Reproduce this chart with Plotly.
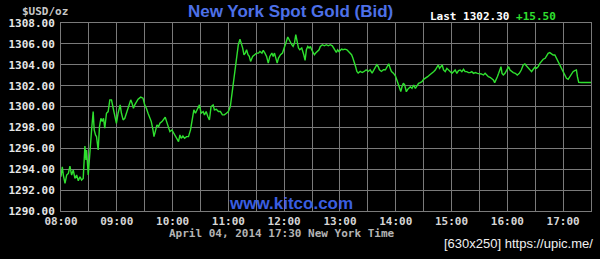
import datetime as dt
import plotly.graph_objects as go

# minutes after 08:00 (April 04, 2014, New York time)
minutes = [
    0, 1.4, 2.5, 4.3, 6.1, 7.9, 9.6, 11.4, 13.2, 15.0, 16.8, 18.6, 20.4, 22.1, 23.9,
    25.7, 26.8, 27.5, 29.3, 31.1, 32.9, 34.6, 35.7, 37.1, 38.2, 40.0, 41.4, 42.9, 44.3,
    45.7, 47.1, 48.9, 50.7, 52.5, 54.3, 56.1, 57.9, 59.6, 61.4, 63.6, 65.0, 66.8, 68.6,
    70.4, 72.1, 73.9, 75.0, 76.4, 77.9, 79.3, 81.1, 82.9, 85.7, 88.2, 90.0, 91.8, 93.6,
    95.4, 97.1, 98.9, 100.0, 101.4, 103.2, 105.0, 106.4, 108.6, 110.7, 112.1, 113.6,
    115.0, 117.1, 119.3, 121.4, 123.9, 126.4, 127.9, 129.3, 131.1, 132.9, 135.0, 137.1,
    139.3, 141.1, 142.9, 144.6, 146.4, 148.9, 150.7, 152.9, 154.3, 156.1, 157.9, 159.6,
    161.4, 163.6, 165.0, 167.1, 169.3, 171.4, 173.6, 175.7, 177.9, 180.0, 182.1, 183.9,
    185.4, 187.1, 188.9, 190.7, 192.5, 193.9, 195.4, 196.8, 198.2, 199.6, 201.1, 202.5,
    203.9, 206.1, 208.2, 210.4, 212.5, 213.9, 216.1, 217.5, 219.3, 221.1, 222.9, 224.6,
    226.8, 228.2, 229.6, 231.1, 232.5, 233.9, 236.1, 238.2, 239.6, 241.8, 243.9, 245.4,
    246.8, 248.2, 249.6, 251.1, 252.5, 253.9, 255.4, 256.8, 258.9, 261.1, 262.5, 263.9,
    265.4, 266.8, 268.2, 269.6, 271.1, 272.5, 273.9, 275.4, 277.5, 278.9, 281.1, 283.2,
    285.4, 287.5, 289.6, 291.8, 293.2, 294.6, 296.1, 297.5, 298.9, 300.4, 301.8, 303.2,
    305.4, 307.5, 308.9, 311.1, 312.5, 313.9, 315.4, 316.8, 318.2, 319.6, 321.8, 323.9,
    326.1, 328.2, 330.4, 332.5, 334.6, 336.8, 338.2, 339.6, 341.1, 342.5, 344.6, 346.8,
    348.9, 351.1, 352.5, 353.9, 355.4, 357.5, 359.6, 361.1, 362.5, 363.9, 365.4, 366.8,
    368.2, 369.6, 371.4, 372.9, 374.3, 375.7, 377.5, 379.3, 381.1, 382.9, 384.6, 386.4,
    388.2, 390.0, 392.1, 394.3, 396.4, 398.9, 400.7, 402.5, 404.3, 405.7, 407.1, 408.6,
    410.0, 411.4, 413.2, 415.0, 416.8, 418.6, 420.4, 422.1, 423.9, 425.7, 427.5, 429.3,
    431.1, 432.9, 434.6, 436.4, 438.2, 440.0, 441.8, 443.6, 445.7, 447.9, 450.0, 452.1,
    454.3, 456.1, 457.9, 459.6, 461.4, 463.2, 465.0, 466.4, 467.9, 469.3, 470.7, 472.1,
    473.2, 474.3, 475.7, 477.5, 479.3, 481.4, 482.9, 484.6, 486.4, 488.6, 490.7, 492.9,
    495.0, 497.1, 498.9, 500.7, 502.9, 504.3, 506.1, 507.9, 509.6, 511.4, 513.2, 515.0,
    516.8, 518.6, 520.7, 522.1, 523.9, 525.7, 527.5, 529.3, 531.1, 532.9, 534.6, 536.4,
    538.2, 540.0, 541.8, 543.6, 545.4, 547.1, 548.9, 550.7, 552.5, 554.3, 555.4, 556.8,
    559.6, 570.0,
]

bid = [
    1293.28, 1294.24, 1293.44, 1292.64, 1293.44, 1293.60, 1294.30, 1293.44, 1293.92,
    1293.12, 1293.44, 1292.90, 1293.28, 1292.96, 1293.12, 1296.22, 1294.88, 1295.84,
    1293.44, 1296.16, 1297.76, 1299.52, 1297.76, 1297.28, 1297.12, 1295.84, 1298.08,
    1298.88, 1298.56, 1298.88, 1297.92, 1299.36, 1299.52, 1300.64, 1300.64, 1299.84,
    1299.20, 1298.40, 1299.36, 1300.16, 1299.36, 1298.72, 1298.88, 1299.36, 1299.84,
    1300.48, 1300.64, 1300.32, 1299.84, 1300.16, 1300.48, 1300.70, 1300.90, 1300.80,
    1300.16, 1299.84, 1299.36, 1298.88, 1298.56, 1297.76, 1297.12, 1297.60, 1298.24,
    1298.08, 1298.40, 1298.56, 1298.88, 1298.98, 1298.56, 1298.24, 1297.60, 1297.76,
    1297.44, 1297.12, 1296.64, 1297.28, 1296.96, 1297.18, 1296.96, 1297.12, 1297.12,
    1297.76, 1298.56, 1299.68, 1299.36, 1299.68, 1300.16, 1299.36, 1299.52, 1299.20,
    1299.52, 1299.04, 1298.72, 1300.00, 1300.16, 1299.68, 1299.74, 1299.52, 1299.52,
    1299.20, 1299.20, 1299.36, 1299.52, 1300.00, 1301.28, 1302.24, 1303.84, 1305.12,
    1305.92, 1306.46, 1306.08, 1305.60, 1304.96, 1305.12, 1305.44, 1304.96, 1304.80,
    1304.32, 1304.80, 1304.96, 1305.12, 1305.12, 1305.28, 1305.12, 1305.38, 1305.12,
    1304.80, 1304.16, 1304.80, 1305.12, 1304.80, 1305.12, 1304.64, 1304.16, 1304.64,
    1304.96, 1305.12, 1305.60, 1306.08, 1306.66, 1306.40, 1306.08, 1305.92, 1305.76,
    1306.08, 1306.88, 1306.08, 1305.60, 1305.44, 1305.60, 1304.96, 1304.42, 1305.44,
    1305.76, 1305.60, 1305.76, 1305.44, 1305.12, 1304.96, 1305.12, 1305.28, 1305.44,
    1305.76, 1305.92, 1305.82, 1305.92, 1305.82, 1305.92, 1305.82, 1305.60, 1305.28,
    1305.18, 1305.44, 1305.28, 1305.38, 1305.50, 1305.44, 1305.50, 1305.44, 1305.28,
    1305.12, 1304.96, 1304.64, 1304.32, 1303.84, 1303.36, 1303.20, 1303.36, 1303.26,
    1303.36, 1303.52, 1303.36, 1303.52, 1303.20, 1303.52, 1303.68, 1304.00, 1303.84,
    1303.52, 1303.36, 1303.52, 1303.52, 1303.90, 1304.10, 1303.68, 1303.36, 1303.20,
    1302.94, 1302.56, 1302.24, 1301.92, 1301.44, 1301.92, 1302.24, 1302.08, 1301.42,
    1301.65, 1301.74, 1301.90, 1301.74, 1302.06, 1301.74, 1302.06, 1302.22, 1302.29,
    1302.38, 1302.61, 1302.70, 1302.86, 1303.02, 1303.18, 1303.34, 1303.50, 1303.82,
    1303.98, 1303.66, 1303.89, 1303.98, 1303.50, 1303.34, 1303.66, 1303.50, 1303.34,
    1303.18, 1303.34, 1303.50, 1303.18, 1303.44, 1303.50, 1303.34, 1303.57, 1303.34,
    1303.34, 1303.25, 1303.25, 1303.34, 1303.18, 1303.25, 1303.18, 1303.18, 1303.12,
    1303.02, 1303.18, 1303.02, 1302.86, 1302.80, 1302.70, 1302.54, 1302.29, 1302.54,
    1302.86, 1303.18, 1303.66, 1303.82, 1303.18, 1303.02, 1303.18, 1303.50, 1303.82,
    1303.50, 1303.34, 1303.25, 1303.18, 1303.02, 1303.18, 1303.50, 1303.98, 1304.08,
    1303.89, 1303.66, 1303.50, 1303.34, 1303.57, 1303.76, 1303.66, 1303.82, 1304.14,
    1304.40, 1304.53, 1304.62, 1304.78, 1305.10, 1305.17, 1305.04, 1304.94, 1304.94,
    1304.62, 1304.30, 1303.98, 1303.66, 1303.34, 1303.02, 1302.70, 1302.61, 1302.86,
    1303.18, 1303.34, 1303.44, 1303.50, 1302.86, 1302.32, 1302.30, 1302.30,
]

y_ticks = [1290, 1292, 1294, 1296, 1298, 1300, 1302, 1304, 1306, 1308]
x_tick_labels = ["08:00", "09:00", "10:00", "11:00", "12:00", "13:00",
                 "14:00", "15:00", "16:00", "17:00"]
title_text = "New York Spot Gold (Bid)"
last_price = "1302.30"
change = "+15.50"
unit_label = "$USD/oz"
timestamp_label = "April 04, 2014 17:30 New York Time"
site_label = "www.kitco.com"
watermark = "[630x250] https://upic.me/"

base = dt.datetime(2014, 4, 4, 8, 0)
times = [base + dt.timedelta(minutes=m) for m in minutes]
tick_vals = [dt.datetime(2014, 4, 4, int(s[:2]), 0) for s in x_tick_labels]

MONO = "DejaVu Sans Mono"
GRID = "#7a7a7a"
GREEN = "#2fe02f"

fig = go.Figure()
fig.add_trace(go.Scatter(x=times, y=bid, mode="lines",
                         line=dict(color=GREEN, width=1.4),
                         hoverinfo="skip", showlegend=False))

fig.update_layout(
    width=600, height=259,
    margin=dict(l=58, r=8, t=23, b=48),
    paper_bgcolor="black", plot_bgcolor="black",
    showlegend=False,
    xaxis=dict(
        range=[base, base + dt.timedelta(minutes=570)],
        tickvals=tick_vals, ticktext=x_tick_labels,
        showgrid=True, gridcolor=GRID, gridwidth=1,
        minor=dict(dtick=1800000, showgrid=True, gridcolor=GRID, gridwidth=1),
        showline=True, linecolor=GRID, linewidth=1, mirror=True,
        ticks="", 
        tickfont=dict(family=MONO, size=11, color="#d6d6d6", weight="bold"),
        zeroline=False, fixedrange=True,
    ),
    yaxis=dict(
        range=[1290, 1308],
        tickvals=y_ticks, tickformat=".2f",
        showgrid=True, gridcolor=GRID, gridwidth=1,
        showline=True, linecolor=GRID, linewidth=1, mirror=True,
        ticks="outside", ticklen=3, tickcolor="black",
        tickfont=dict(family=MONO, size=11, color="#e6e6e6", weight="bold"),
        zeroline=False, fixedrange=True,
    ),
)

def ann(text, x, y, xanchor, yanchor, font, **kw):
    fig.add_annotation(text=text, x=x, y=y, xref="paper", yref="paper",
                       xanchor=xanchor, yanchor=yanchor, showarrow=False,
                       font=font, **kw)

W, H, L, T = 534.0, 188.0, 58.0, 23.0
def px(x):
    return (x - L) / W
def py(y):
    return (T + H - y) / H

ann(title_text, px(289), py(12), "center", "middle",
    dict(family="Liberation Sans", size=17, color="#4d70e8", weight="bold"))
ann(unit_label, px(17), py(11), "left", "middle",
    dict(family=MONO, size=11, color="#c8c8c8", weight="bold"))
ann(f"Last {last_price} <span style='color:{GREEN}'>{change}</span>",
    px(428), py(16), "left", "middle",
    dict(family=MONO, size=11, color="#ffffff", weight="bold"))
ann(site_label, px(290), py(203), "center", "middle",
    dict(family="Liberation Sans", size=17, color="#3a5ee0", weight="bold"))
ann(timestamp_label, px(281), py(233.5), "center", "middle",
    dict(family=MONO, size=11, color="#b4b4b4", weight="bold"))
ann(watermark, px(596), py(243), "right", "middle",
    dict(family="Liberation Sans", size=13, color="#f0f0f0"))

fig.write_html("out.html", config=dict(displayModeBar=False))
